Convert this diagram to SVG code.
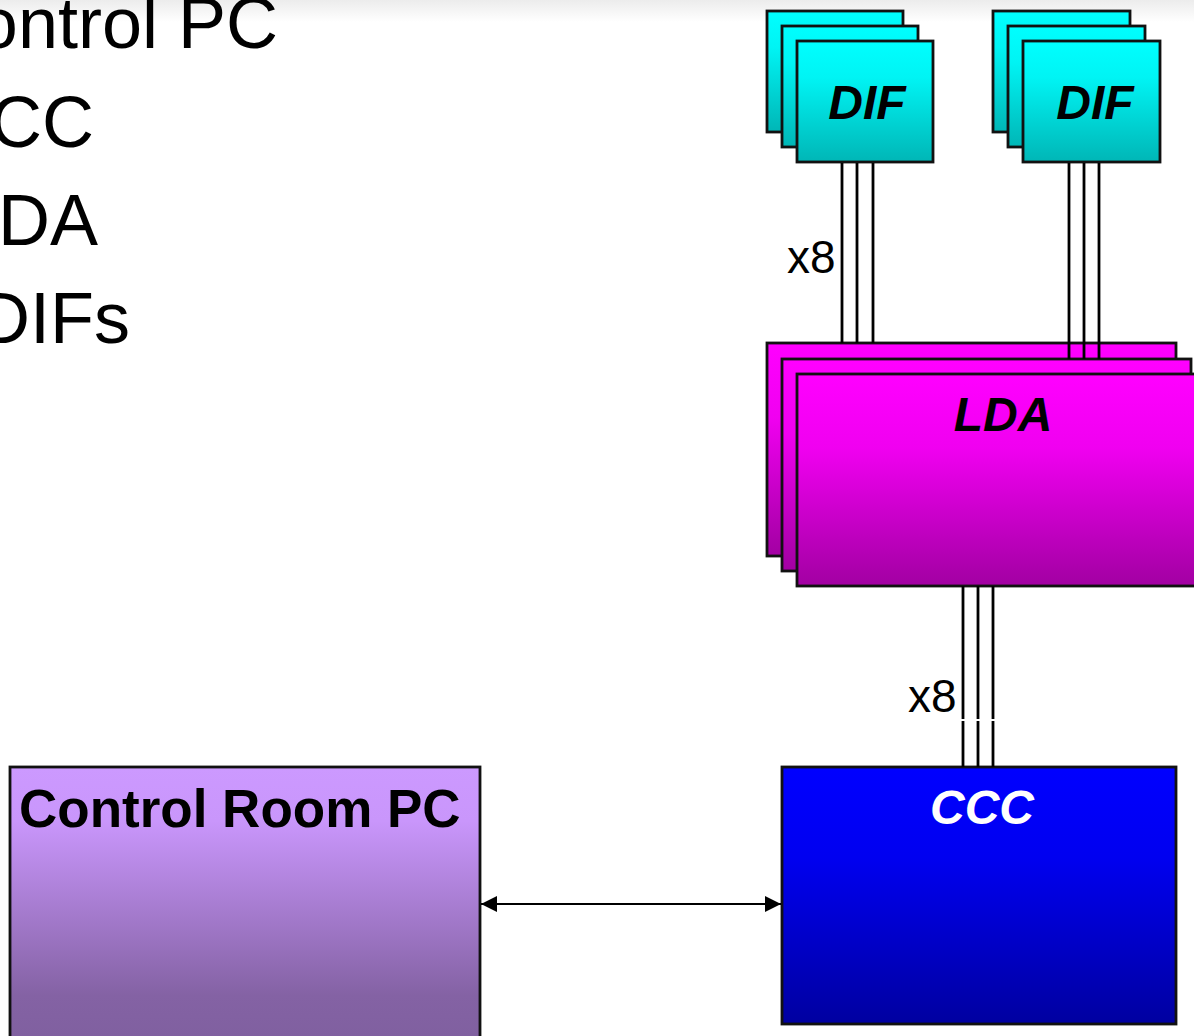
<svg xmlns="http://www.w3.org/2000/svg" width="1194" height="1036" viewBox="0 0 1194 1036">
<style>
.box{stroke:#111;stroke-width:2.8}
.lbl{font-family:"Liberation Sans",Arial,sans-serif;font-weight:bold;font-style:italic;font-size:48px;text-anchor:middle}
.big{font-family:"Liberation Sans",Arial,sans-serif;font-size:72px;fill:#000;text-anchor:end}
.x8{font-family:"Liberation Sans",Arial,sans-serif;font-size:46px;fill:#000}
.wire{stroke:#000;stroke-width:2.8;fill:none}
</style>
<defs>
<linearGradient id="gTop" x1="0" y1="0" x2="0" y2="1"><stop offset="0" stop-color="#ececec"/><stop offset="1" stop-color="#ffffff"/></linearGradient>
<linearGradient id="gDif" x1="0" y1="0" x2="0" y2="1"><stop offset="0" stop-color="#00ffff"/><stop offset="0.3" stop-color="#00f4f4"/><stop offset="1" stop-color="#00b6b6"/></linearGradient>
<linearGradient id="gLda" x1="0" y1="0" x2="0" y2="1"><stop offset="0" stop-color="#ff00ff"/><stop offset="0.35" stop-color="#f000f0"/><stop offset="1" stop-color="#a200a2"/></linearGradient>
<linearGradient id="gCcc" x1="0" y1="0" x2="0" y2="1"><stop offset="0" stop-color="#0000ff"/><stop offset="0.35" stop-color="#0000f0"/><stop offset="1" stop-color="#0000a0"/></linearGradient>
<linearGradient id="gPc" x1="0" y1="767" x2="0" y2="1036" gradientUnits="userSpaceOnUse"><stop offset="0" stop-color="#cc99ff"/><stop offset="0.2" stop-color="#c996fb"/><stop offset="0.85" stop-color="#8462a4"/><stop offset="1" stop-color="#8060a0"/></linearGradient>
<marker id="ah" markerWidth="16" markerHeight="16" viewBox="0 0 16 16" refX="16" refY="8" orient="auto-start-reverse" markerUnits="userSpaceOnUse"><path d="M0,0 L16,8 L0,16 Z" fill="#000"/></marker>
</defs>
<rect x="0" y="0" width="1194" height="1036" fill="#fff"/>
<rect x="0" y="0" width="1194" height="22" fill="url(#gTop)"/>

<g id="bullets">
<text class="big" x="278" y="48">Control PC</text>
<text class="big" x="94" y="147">CCC</text>
<text class="big" x="98" y="245">LDA</text>
<text class="big" x="130" y="343">DIFs</text>
</g>

<g id="dif1">
<rect class="box" x="767" y="11" width="136" height="121" fill="url(#gDif)"/>
<rect class="box" x="782" y="26" width="136" height="121" fill="url(#gDif)"/>
<rect class="box" x="797" y="41" width="136" height="121" fill="url(#gDif)"/>
<text class="lbl" x="867" y="119" fill="#000">DIF</text>
</g>
<g id="dif2">
<rect class="box" x="993" y="11" width="137" height="121" fill="url(#gDif)"/>
<rect class="box" x="1008" y="26" width="137" height="121" fill="url(#gDif)"/>
<rect class="box" x="1023" y="41" width="137" height="121" fill="url(#gDif)"/>
<text class="lbl" x="1095" y="119" fill="#000">DIF</text>
</g>

<g id="lda">
<rect class="box" x="767" y="343" width="409" height="213" fill="url(#gLda)"/>
<rect class="box" x="782" y="359" width="409" height="212" fill="url(#gLda)"/>
<rect class="box" x="797" y="374" width="412" height="212" fill="url(#gLda)"/>
<text class="lbl" x="1003" y="431" fill="#000">LDA</text>
</g>

<g id="ccc">
<rect class="box" x="782" y="767" width="394" height="257" fill="url(#gCcc)"/>
<text class="lbl" x="982" y="824" fill="#fff">CCC</text>
</g>

<g id="pc">
<rect class="box" x="10" y="767" width="470" height="285" fill="url(#gPc)"/>
<text x="19" y="827" font-family="'Liberation Sans',Arial,sans-serif" font-weight="bold" font-size="53" fill="#000">Control Room PC</text>
</g>

<g id="connectors">
<line class="wire" x1="842" y1="163" x2="842" y2="343"/>
<line class="wire" x1="857" y1="163" x2="857" y2="343"/>
<line class="wire" x1="873" y1="163" x2="873" y2="343"/>
<line class="wire" x1="1069" y1="163" x2="1069" y2="359"/>
<line class="wire" x1="1084" y1="163" x2="1084" y2="359" stroke="#444" stroke-width="2"/>
<line class="wire" x1="1099" y1="163" x2="1099" y2="359"/>
<line class="wire" x1="963" y1="586" x2="963" y2="719"/>
<line class="wire" x1="978" y1="586" x2="978" y2="719"/>
<line class="wire" x1="993" y1="586" x2="993" y2="719"/>
<line class="wire" x1="963" y1="721" x2="963" y2="767"/>
<line class="wire" x1="978" y1="721" x2="978" y2="767"/>
<line class="wire" x1="993" y1="721" x2="993" y2="767"/>
<line x1="481" y1="904" x2="781" y2="904" stroke="#000" stroke-width="2.2" marker-start="url(#ah)" marker-end="url(#ah)"/>
<text class="x8" x="787" y="273">x8</text>
<text class="x8" x="908" y="712">x8</text>
</g>
</svg>
